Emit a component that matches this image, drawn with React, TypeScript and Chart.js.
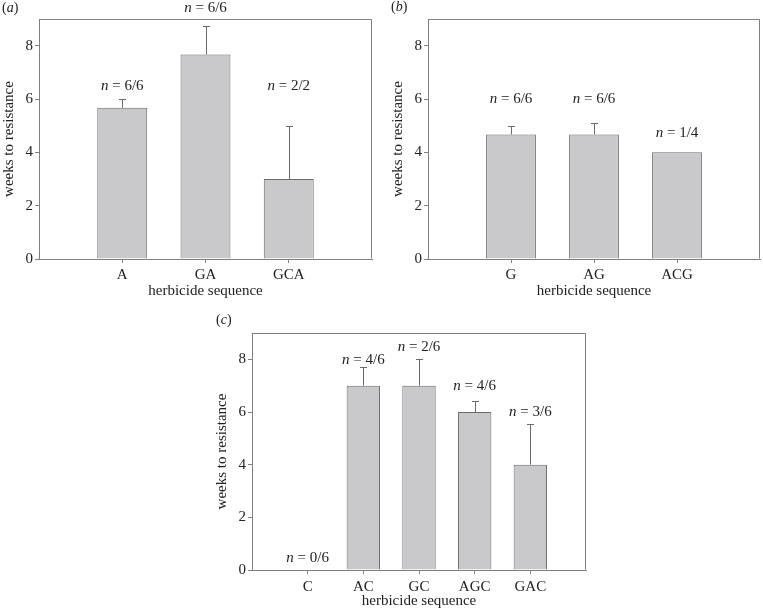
import React, { useEffect, useRef } from 'react';
import { Chart, registerables } from 'chart.js';
Chart.register(...registerables);

// ---- data ----
const catsA = ['A', 'GA', 'GCA'];
const valsA = [5.67, 7.67, 3.0];
const errTopA: (number | null)[] = [6.0, 8.75, 5.0];
const nTextA = ['6/6', '6/6', '2/2'];
const nPosA = [6.35, 9.28, 6.35];

const catsB = ['G', 'AG', 'ACG'];
const valsB = [4.67, 4.67, 4.0];
const errTopB: (number | null)[] = [5.0, 5.1, null];
const nTextB = ['6/6', '6/6', '1/4'];
const nPosB = [5.84, 5.84, 4.56];

const catsC = ['C', 'AC', 'GC', 'AGC', 'GAC'];
const valsC = [0, 7.0, 7.0, 6.0, 4.0];
const errTopC: (number | null)[] = [null, 7.7, 8.0, 6.4, 5.53];
const nTextC = ['0/6', '4/6', '2/6', '4/6', '3/6'];
const nPosC = [0.32, 7.83, 8.3, 6.84, 5.85];

const yMin = 0;
const yMax = 9;
const yStep = 2;

const SERIF = '"Liberation Serif", "Times New Roman", serif';
const GRAY = '#7f7f7f';
const TXT = '#222222';

type PanelProps = {
  left: number; top: number; width: number; height: number;
  pad: { left: number; top: number; right: number; bottom: number };
  cats: string[]; vals: number[]; errs: (number | null)[];
  nText: string[]; nPos: number[];
  xH: number; xTickPad: number; xTitlePad: number;
};

function Panel(p: PanelProps) {
  const ref = useRef<HTMLCanvasElement>(null);
  useEffect(() => {
    if (!ref.current) return;
    const labels = ['', ...p.cats, ''];
    const data = [null, ...p.vals, null];
    const overlay = {
      id: 'overlay',
      afterDatasetsDraw(chart: any) {
        const { ctx, chartArea: ca, scales } = chart;
        const xs = scales.x, ys = scales.y;
        ctx.save();
        // frame
        ctx.strokeStyle = GRAY;
        ctx.lineWidth = 1;
        const l = Math.round(ca.left) + 0.5, r = Math.round(ca.right) - 0.5;
        const t = Math.round(ca.top) + 0.5, b = Math.round(ca.bottom) - 0.5;
        ctx.beginPath();
        ctx.moveTo(l, b); ctx.lineTo(l, t); ctx.lineTo(r, t); ctx.lineTo(r, b);
        ctx.stroke();
        // error bars
        ctx.strokeStyle = '#6a6a6a';
        p.cats.forEach((_, i) => {
          const e = p.errs[i];
          if (e == null) return;
          const x = Math.round(xs.getPixelForValue(i + 1)) + 0.5;
          const y0 = ys.getPixelForValue(p.vals[i]);
          const y1 = Math.round(ys.getPixelForValue(e)) + 0.5;
          ctx.beginPath();
          ctx.moveTo(x, y0); ctx.lineTo(x, y1);
          ctx.moveTo(x - 3.5, y1); ctx.lineTo(x + 3.5, y1);
          ctx.stroke();
        });
        // n labels
        ctx.fillStyle = TXT;
        ctx.textBaseline = 'alphabetic';
        ctx.textAlign = 'left';
        p.cats.forEach((_, i) => {
          const x = xs.getPixelForValue(i + 1);
          const y = ys.getPixelForValue(p.nPos[i]);
          const it = `italic 15px ${SERIF}`;
          const rg = `15px ${SERIF}`;
          ctx.font = it;
          const w1 = ctx.measureText('n').width;
          ctx.font = rg;
          const rest = ' = ' + p.nText[i];
          const w2 = ctx.measureText(rest).width;
          const x0 = x - (w1 + w2) / 2;
          ctx.font = it;
          ctx.fillText('n', x0, y);
          ctx.font = rg;
          ctx.fillText(rest, x0 + w1, y);
        });
        ctx.restore();
      },
    };
    const chart = new Chart(ref.current, {
      type: 'bar',
      data: {
        labels,
        datasets: [{
          data,
          backgroundColor: '#c9c9cb',
          borderColor: '#6a6a6a',
          borderWidth: 1,
          borderSkipped: 'bottom',
          categoryPercentage: 1,
          barPercentage: 0.6,
        }],
      },
      options: {
        animation: false,
        responsive: false,
        maintainAspectRatio: false,
        devicePixelRatio: 1,
        layout: { padding: p.pad },
        plugins: { legend: { display: false }, tooltip: { enabled: false } },
        scales: {
          x: {
            type: 'category',
            offset: false,
            afterFit: (s: any) => { s.height = p.xH; },
            grid: {
              offset: false,
              drawOnChartArea: false,
              drawTicks: true,
              tickLength: 4,
              color: (c: any) => (c.tick && c.tick.label) ? GRAY : 'rgba(0,0,0,0)',
            },
            border: { color: GRAY, width: 1 },
            ticks: {
              autoSkip: false, maxRotation: 0, padding: p.xTickPad,
              color: TXT, font: { family: SERIF, size: 15 },
            },
            title: {
              display: true, text: 'herbicide sequence', color: TXT,
              font: { family: SERIF, size: 15 },
              padding: { top: 0, bottom: p.xTitlePad },
            },
          },
          y: {
            min: yMin, max: yMax,
            afterFit: (s: any) => { s.width = 39; },
            grid: { drawOnChartArea: false, drawTicks: true, tickLength: 4, color: GRAY },
            border: { color: GRAY, width: 1 },
            ticks: {
              stepSize: yStep, includeBounds: false, padding: 2,
              color: TXT, font: { family: SERIF, size: 15 },
            },
            title: {
              display: true, text: 'weeks to resistance', color: TXT,
              font: { family: SERIF, size: 15 },
              padding: { top: 0, bottom: 0 },
            },
          },
        },
      },
      plugins: [overlay],
    } as any);
    return () => chart.destroy();
  }, []);
  return (
    <canvas
      ref={ref}
      width={p.width}
      height={p.height}
      style={{ position: 'absolute', left: p.left, top: p.top, width: p.width, height: p.height }}
    />
  );
}

const tagStyle: React.CSSProperties = {
  position: 'absolute', font: `14px ${SERIF}`, color: TXT, lineHeight: '16px', whiteSpace: 'nowrap',
};

export default function App() {
  return (
    <div style={{ position: 'fixed', left: 0, top: 0, width: 763, height: 610, background: '#fff', overflow: 'hidden' }}>
      <Panel left={0} top={0} width={380} height={300}
        pad={{ left: 0, top: 19, right: 8, bottom: 0 }}
        cats={catsA} vals={valsA} errs={errTopA} nText={nTextA} nPos={nPosA}
        xH={41} xTickPad={3} xTitlePad={0} />
      <Panel left={389} top={0} width={374} height={300}
        pad={{ left: 0, top: 19, right: 1, bottom: 0 }}
        cats={catsB} vals={valsB} errs={errTopB} nText={nTextB} nPos={nPosB}
        xH={41} xTickPad={3} xTitlePad={0} />
      <Panel left={213} top={300} width={381} height={310}
        pad={{ left: 0, top: 33, right: 8, bottom: 0 }}
        cats={catsC} vals={valsC} errs={errTopC} nText={nTextC} nPos={nPosC}
        xH={40} xTickPad={4} xTitlePad={0} />
      <span style={{ ...tagStyle, left: 2, top: 0 }}>(<i>a</i>)</span>
      <span style={{ ...tagStyle, left: 391, top: -1 }}>(<i>b</i>)</span>
      <span style={{ ...tagStyle, left: 216, top: 312 }}>(<i>c</i>)</span>
    </div>
  );
}
